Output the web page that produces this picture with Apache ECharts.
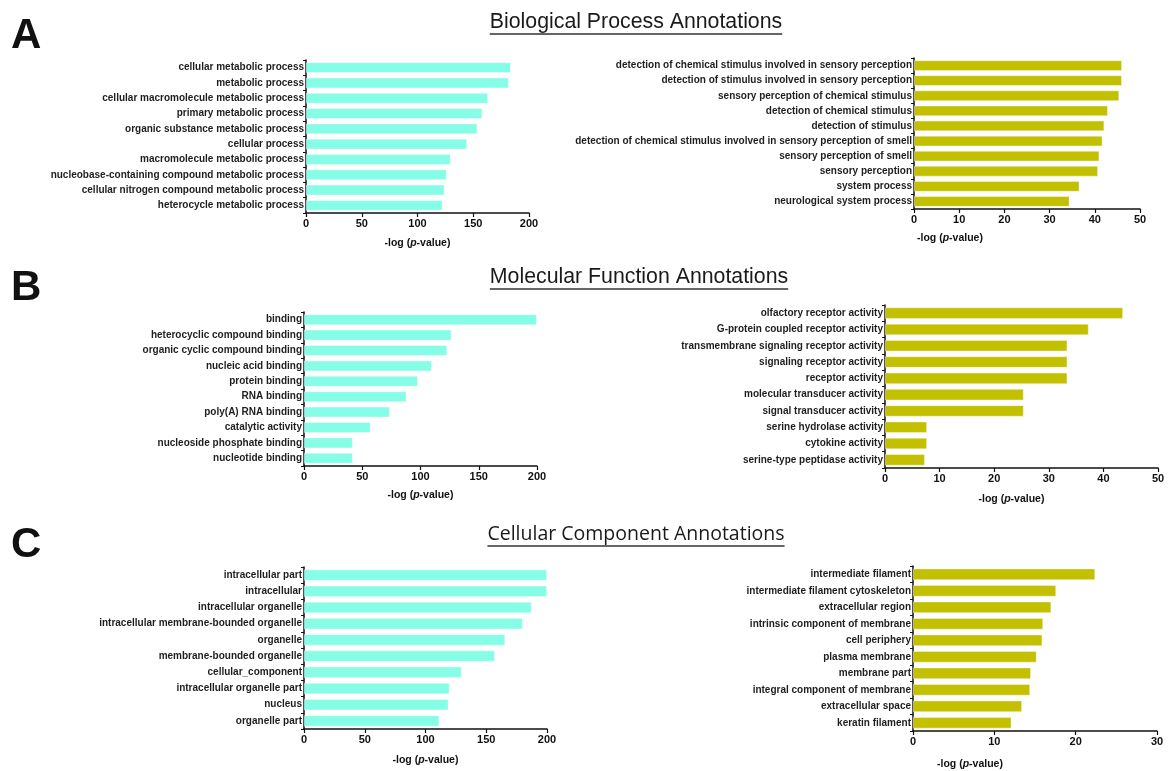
<!DOCTYPE html>
<html><head><meta charset="utf-8">
<script src="https://cdn.jsdelivr.net/npm/echarts@6/dist/echarts.min.js"></script>
<style>html,body{margin:0;padding:0;background:#fff}#c{width:1169px;height:771px}</style>
</head><body><div id="c"></div>
<script>
// ---- data ----
const bpLeftCats = ['cellular metabolic process','metabolic process','cellular macromolecule metabolic process','primary metabolic process','organic substance metabolic process','cellular process','macromolecule metabolic process','nucleobase-containing compound metabolic process','cellular nitrogen compound metabolic process','heterocycle metabolic process'];
const bpLeftVals = [183.7,181.8,163.3,158.1,153.7,144.4,129.7,126.2,124.3,122.4];
const bpRightCats = ['detection of chemical stimulus involved in sensory perception','detection of stimulus involved in sensory perception','sensory perception of chemical stimulus','detection of chemical stimulus','detection of stimulus','detection of chemical stimulus involved in sensory perception of smell','sensory perception of smell','sensory perception','system process','neurological system process'];
const bpRightVals = [46.0,46.0,45.4,42.9,42.1,41.7,41.0,40.7,36.6,34.4];
const mfLeftCats = ['binding','heterocyclic compound binding','organic cyclic compound binding','nucleic acid binding','protein binding','RNA binding','poly(A) RNA binding','catalytic activity','nucleoside phosphate binding','nucleotide binding'];
const mfLeftVals = [200,126.6,122.9,109.7,97.7,87.9,73.7,57.1,41.8,41.8];
const mfRightCats = ['olfactory receptor activity','G-protein coupled receptor activity','transmembrane signaling receptor activity','signaling receptor activity','receptor activity','molecular transducer activity','signal transducer activity','serine hydrolase activity','cytokine activity','serine-type peptidase activity'];
const mfRightVals = [43.6,37.3,33.4,33.4,33.4,25.4,25.4,7.7,7.7,7.3];
const ccLeftCats = ['intracellular part','intracellular','intracellular organelle','intracellular membrane-bounded organelle','organelle','membrane-bounded organelle','cellular_component','intracellular organelle part','nucleus','organelle part'];
const ccLeftVals = [200,200,187.4,180.0,165.6,157.1,129.8,119.8,118.9,111.3];
const ccRightCats = ['intermediate filament','intermediate filament cytoskeleton','extracellular region','intrinsic component of membrane','cell periphery','plasma membrane','membrane part','integral component of membrane','extracellular space','keratin filament'];
const ccRightVals = [22.4,17.6,17.0,16.0,15.9,15.2,14.5,14.4,13.4,12.1];
const xMaxes = [200,50,200,50,200,30];
const xIntervals = [50,10,50,10,50,10];
const panelTitles = ['Biological Process Annotations','Molecular Function Annotations','Cellular Component Annotations'];
const panelLetters = ['A','B','C'];
const axisNameText = '-log ({i|p}-value)';

// ---- layout / style ----
const CYAN = '#86FDE6', OLIVE = '#C2C000';
const panels = [
  {cats: bpLeftCats,  vals: bpLeftVals,  color: CYAN,  lay: {left:306, top:60,  width:223, height:153, gap:25, shift:0}},
  {cats: bpRightCats, vals: bpRightVals, color: OLIVE, lay: {left:914, top:58,  width:226, height:151, gap:24, shift:77}},
  {cats: mfLeftCats,  vals: mfLeftVals,  color: CYAN,  lay: {left:304, top:312, width:233, height:154, gap:24, shift:0}},
  {cats: mfRightCats, vals: mfRightVals, color: OLIVE, lay: {left:885, top:305, width:273, height:163, gap:26, shift:10}},
  {cats: ccLeftCats,  vals: ccLeftVals,  color: CYAN,  lay: {left:304, top:567, width:243, height:162, gap:26, shift:0}},
  {cats: ccRightCats, vals: ccRightVals, color: OLIVE, lay: {left:913, top:566, width:244, height:165, gap:28, shift:65}}
];
const titleLay = [
  {x:636, y:12, font:'21.3px "Liberation Sans"', uy:34},
  {x:639, y:267, font:'21.3px "Liberation Sans"', uy:289},
  {x:636, y:524, font:'19.5px "Open Sans"', uy:546}
];
const letterLay = [{x:11,y:15},{x:11,y:267},{x:11,y:524}];

const FONT = '"Liberation Sans", Arial, sans-serif';
const grid = [], xAxis = [], yAxis = [], series = [];
panels.forEach((p, i) => {
  const L = p.lay;
  grid.push({left:L.left, top:L.top, width:L.width, height:L.height, containLabel:false});
  xAxis.push({
    type:'value', gridIndex:i, min:0, max:xMaxes[i], interval:xIntervals[i],
    axisLine:{show:true, lineStyle:{color:'#111', width:1.5}},
    axisTick:{show:true, length:4, lineStyle:{color:'#111', width:1.2}},
    splitLine:{show:false},
    axisLabel:{color:'#111', fontFamily:FONT, fontSize:11, fontWeight:'bold', margin:5},
    name: axisNameText, nameLocation:'middle', nameGap:L.gap,
    nameTextStyle:{color:'#111', fontFamily:FONT, fontSize:10.5, fontWeight:'bold', padding:[0, L.shift*2, 0, 0],
      rich:{i:{fontStyle:'italic', fontWeight:'bold', fontFamily:FONT, fontSize:10.5, color:'#111'}}}
  });
  yAxis.push({
    type:'category', gridIndex:i, data:p.cats, inverse:true,
    axisLine:{show:true, lineStyle:{color:'#111', width:1.5}},
    axisTick:{show:true, length:3, lineStyle:{color:'#111', width:1}},
    axisLabel:{color:'#1e1e1e', fontFamily:FONT, fontSize:10, fontWeight:'bold', margin:2, interval:0}
  });
  series.push({
    type:'bar', xAxisIndex:i, yAxisIndex:i, data:p.vals, barCategoryGap:'30%',
    itemStyle:{color:p.color, borderColor:'rgba(255,255,255,0.5)', borderWidth:0.8},
    silent:true, animation:false
  });
});

// titles with underlines (width measured from rendered text)
const cv = document.createElement('canvas').getContext('2d');
const graphic = [];
panelTitles.forEach((t, i) => {
  const T = titleLay[i];
  cv.font = T.font;
  const w = cv.measureText(t).width;
  graphic.push({type:'text', left:T.x - w/2, top:T.y, style:{text:t, font:T.font, fill:'#1a1a1a'}});
  graphic.push({type:'line', shape:{x1:T.x - w/2, y1:T.uy, x2:T.x + w/2, y2:T.uy}, style:{stroke:'#333', lineWidth:1.5}});
  graphic.push({type:'text', left:letterLay[i].x, top:letterLay[i].y, style:{text:panelLetters[i], font:'bold 42px "Liberation Sans"', fill:'#111'}});
});

const chart = echarts.init(document.getElementById('c'), null, {renderer:'canvas'});
chart.setOption({animation:false, backgroundColor:'#fff', grid, xAxis, yAxis, series, graphic});
</script></body></html>
